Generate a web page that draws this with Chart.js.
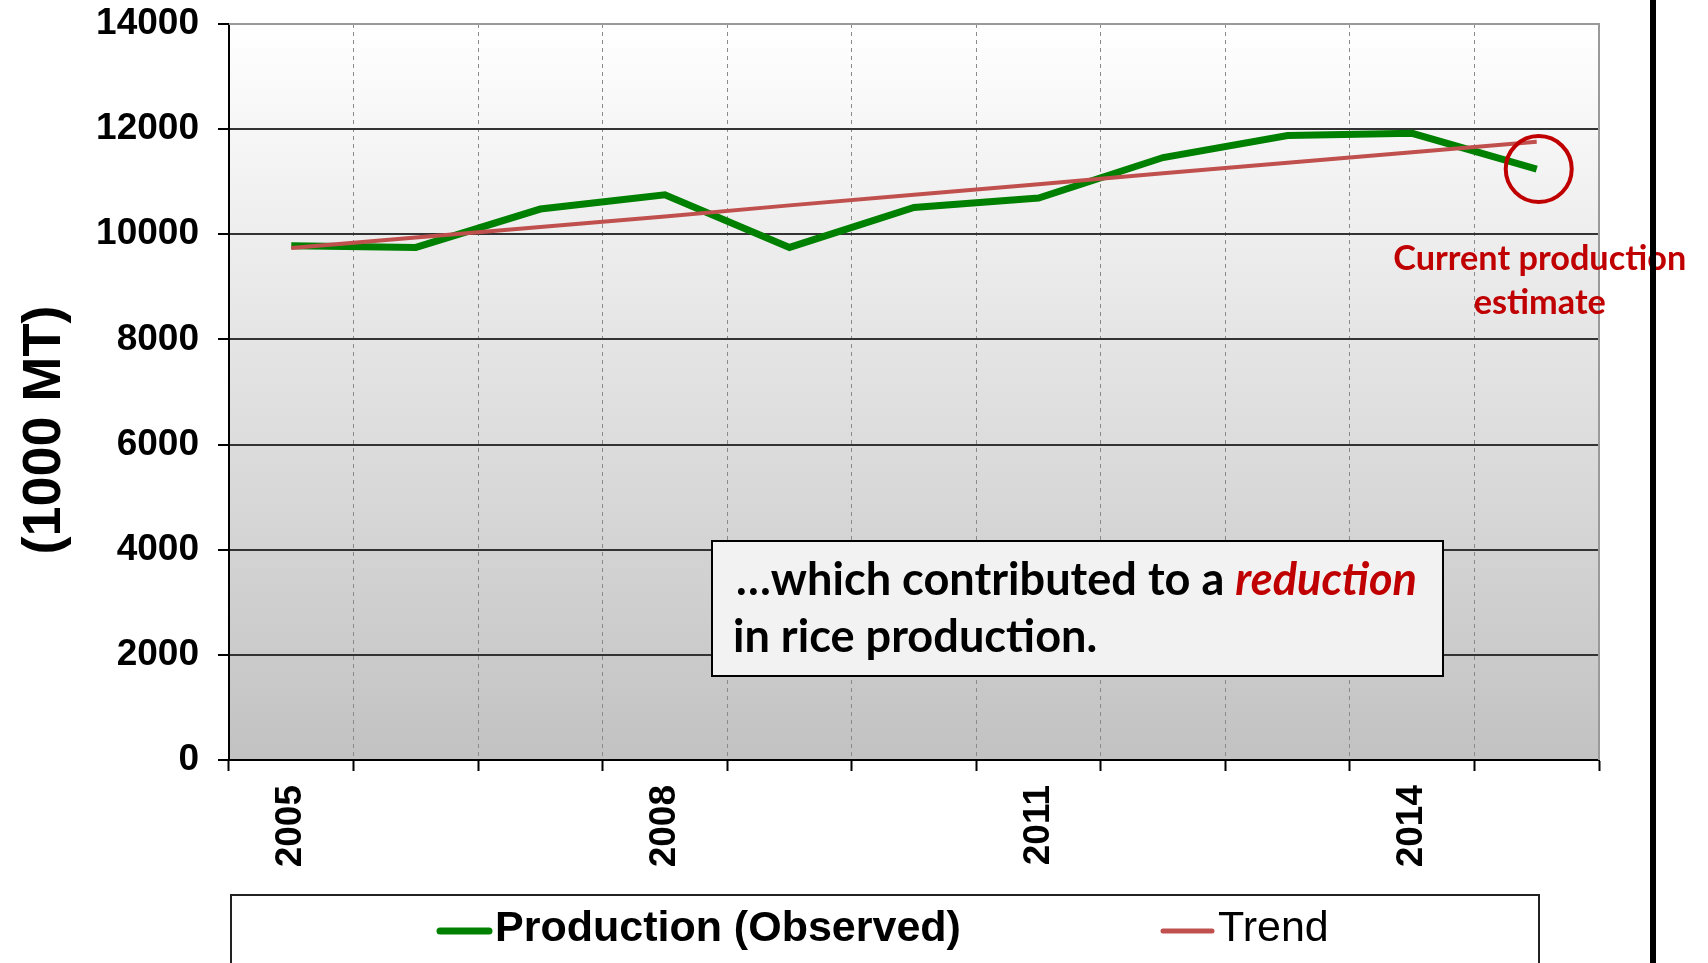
<!DOCTYPE html>
<html>
<head>
<meta charset="utf-8">
<script src="https://cdn.jsdelivr.net/npm/chart.js@4.4.1/dist/chart.umd.min.js"></script>
<style>
html, body { margin: 0; padding: 0; background: #fff; overflow: hidden; }
#wrap { position: relative; width: 1708px; height: 963px; }
#divider { position: absolute; left: 1650px; top: 0; width: 6px; height: 963px; background: #000; }
</style>
</head>
<body>
<div id="wrap">
  <canvas id="chart" width="1708" height="963"></canvas>
  <div id="divider"></div>
</div>
<script>
// data
var years = ['2005', '2006', '2007', '2008', '2009', '2010', '2011', '2012', '2013', '2014', '2015'];
var observed = [9780, 9750, 10480, 10750, 9750, 10510, 10690, 11460, 11880, 11920, 11240];
var trend = [9740, 9940, 10140, 10340, 10550, 10750, 10950, 11160, 11360, 11560, 11760];
var yMin = 0, yMax = 14000, yStep = 2000;
var seriesNames = ['Production (Observed)', 'Trend'];
var seriesColors = ['#008000', '#c0504d'];

var AXIS_FONT = 'Liberation Sans, Arial, sans-serif';
var NOTE_FONT = 'Lato, Carlito, sans-serif';

// draws a row of text pieces, squeezed sideways by scale s
function drawRuns(ctx, runs, x, y, s) {
    ctx.save();
    ctx.translate(x, y);
    ctx.scale(s, 1);
    var cx = 0;
    runs.forEach(function (r) {
        ctx.font = r.font;
        ctx.fillStyle = r.color;
        ctx.fillText(r.text, cx, 0);
        cx += ctx.measureText(r.text).width;
    });
    ctx.restore();
}

function runsWidth(ctx, runs) {
    var w = 0;
    runs.forEach(function (r) {
        ctx.font = r.font;
        w += ctx.measureText(r.text).width;
    });
    return w;
}

var decorPlugin = {
    id: 'decor',
    beforeDraw: function (chart) {
        var a = chart.chartArea, ctx = chart.ctx;
        var g = ctx.createLinearGradient(0, a.top, 0, a.bottom);
        g.addColorStop(0, '#ffffff');
        g.addColorStop(1, '#c2c2c2');
        ctx.save();
        ctx.fillStyle = g;
        ctx.fillRect(a.left, a.top, a.right - a.left, a.bottom - a.top);
        ctx.restore();
    },
    beforeDatasetsDraw: function (chart) {
        // grey frame on the top and right of the plot
        var a = chart.chartArea, ctx = chart.ctx;
        ctx.save();
        ctx.strokeStyle = '#9a9a9a';
        ctx.lineWidth = 2;
        ctx.beginPath();
        ctx.moveTo(a.left, a.top);
        ctx.lineTo(a.right, a.top);
        ctx.lineTo(a.right, a.bottom);
        ctx.stroke();
        ctx.restore();
    },
    afterDraw: function (chart) {
        var ctx = chart.ctx;

        // y axis title
        ctx.save();
        ctx.translate(45, 430);
        ctx.rotate(-Math.PI / 2);
        ctx.font = 'bold 54px ' + AXIS_FONT;
        ctx.fillStyle = '#000';
        ctx.textAlign = 'center';
        ctx.textBaseline = 'middle';
        ctx.fillText('(1000 MT)', 0, 0);
        ctx.restore();

        // red circle round the latest point
        var meta = chart.getDatasetMeta(0);
        var last = meta.data[meta.data.length - 1];
        ctx.save();
        ctx.strokeStyle = '#c00000';
        ctx.lineWidth = 4;
        ctx.beginPath();
        ctx.arc(last.x + 2, last.y, 33, 0, Math.PI * 2);
        ctx.stroke();

        // note under the circle
        ctx.textBaseline = 'alphabetic';
        ctx.textAlign = 'center';
        ctx.fillStyle = '#c00000';
        ctx.font = 'bold 35px ' + NOTE_FONT;
        var w1 = ctx.measureText('Current production').width;
        var ns = 293 / w1;
        ctx.translate(last.x + 3, 0);
        ctx.scale(ns, 1);
        ctx.fillText('Current production', 0, 270);
        ctx.fillText('estimate', 0, 314);
        ctx.restore();

        // text box
        ctx.save();
        ctx.fillStyle = '#f2f2f2';
        ctx.fillRect(712, 541, 731, 135);
        ctx.strokeStyle = '#000';
        ctx.lineWidth = 2;
        ctx.strokeRect(712, 541, 731, 135);
        ctx.textBaseline = 'alphabetic';
        ctx.textAlign = 'left';
        var line1 = [
            { text: '\u2026which contributed to a ', font: 'bold 46px ' + NOTE_FONT, color: '#000' },
            { text: 'reduction', font: 'italic bold 46px ' + NOTE_FONT, color: '#c00000' }
        ];
        var line2 = [
            { text: 'in rice production.', font: 'bold 46px ' + NOTE_FONT, color: '#000' }
        ];
        var bs = 681 / runsWidth(ctx, line1);
        drawRuns(ctx, line1, 736, 595, bs);
        drawRuns(ctx, line2, 733, 652, bs);
        ctx.restore();

        // legend box
        ctx.save();
        ctx.fillStyle = '#fff';
        ctx.fillRect(231, 895, 1308, 100);
        ctx.strokeStyle = '#222';
        ctx.lineWidth = 2;
        ctx.strokeRect(231, 895, 1308, 100);
        var items = [
            { x: 437, weight: 'bold', lw: 7 },
            { x: 1160, weight: 'normal', lw: 5 }
        ];
        ctx.textBaseline = 'middle';
        ctx.textAlign = 'left';
        items.forEach(function (it, i) {
            ctx.strokeStyle = seriesColors[i];
            ctx.lineWidth = it.lw;
            ctx.lineCap = 'round';
            ctx.beginPath();
            ctx.moveTo(it.x + 3, 931);
            ctx.lineTo(it.x + 52, 931);
            ctx.stroke();
            ctx.fillStyle = '#000';
            ctx.font = it.weight + ' 43px ' + AXIS_FONT;
            ctx.fillText(seriesNames[i], it.x + 58, 929);
        });
        ctx.restore();
    }
};

var ctx = document.getElementById('chart').getContext('2d');
var chart = new Chart(ctx, {
    type: 'line',
    data: {
        labels: years,
        datasets: [
            {
                label: seriesNames[0],
                data: observed,
                borderColor: seriesColors[0],
                borderWidth: 7,
                pointRadius: 0,
                tension: 0,
                order: 1
            },
            {
                label: seriesNames[1],
                data: trend,
                borderColor: seriesColors[1],
                borderWidth: 4,
                pointRadius: 0,
                tension: 0,
                order: 0
            }
        ]
    },
    options: {
        responsive: false,
        animation: false,
        layout: { padding: { top: 24, right: 109, left: 0, bottom: 0 } },
        plugins: {
            legend: { display: false },
            tooltip: { enabled: false }
        },
        scales: {
            x: {
                offset: true,
                afterFit: function (scale) { scale.height = 203; },
                grid: {
                    offset: true,
                    color: '#8a8a8a',
                    lineWidth: 1,
                    tickLength: 11,
                    tickColor: '#000',
                    tickWidth: 2
                },
                border: { color: '#000', width: 2, dash: [4, 4] },
                ticks: {
                    autoSkip: false,
                    minRotation: 90,
                    maxRotation: 90,
                    padding: 14,
                    color: '#000',
                    font: { family: AXIS_FONT, size: 37, weight: 'bold' },
                    callback: function (val, i) {
                        return i % 3 === 0 ? this.getLabelForValue(val) : '';
                    }
                }
            },
            y: {
                min: yMin,
                max: yMax,
                afterFit: function (scale) {
                    scale.width = 229;
                    // keep the label overhang from pushing the plot down
                    scale.paddingTop = 0;
                    scale.paddingBottom = 0;
                },
                grid: {
                    color: function (c) {
                        return c.tick && c.tick.value === yMax ? '#9a9a9a' : '#333';
                    },
                    lineWidth: 2,
                    tickLength: 11,
                    tickColor: '#000'
                },
                border: { color: '#000', width: 2 },
                ticks: {
                    stepSize: yStep,
                    padding: 19,
                    color: '#000',
                    font: { family: AXIS_FONT, size: 37, weight: 'bold', lineHeight: 1 },
                    callback: function (val) { return String(val); }
                }
            }
        }
    },
    plugins: [decorPlugin]
});
</script>
</body>
</html>
